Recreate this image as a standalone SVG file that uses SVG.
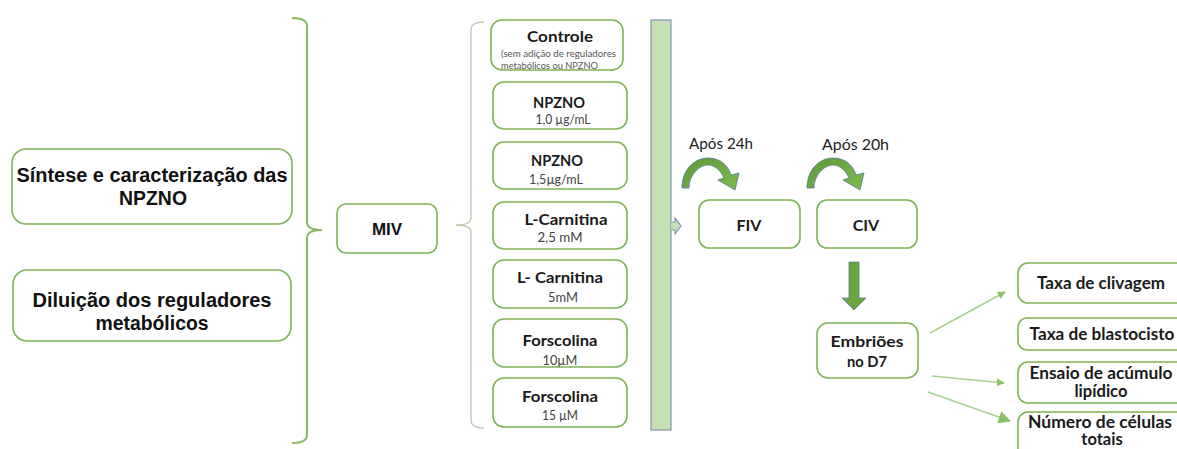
<svg xmlns="http://www.w3.org/2000/svg" width="1177" height="449" viewBox="0 0 1177 449">
<style>
  .box { fill: #ffffff; stroke: #7db356; stroke-width: 1.6; }
  .arial { font-family: "Liberation Sans", Arial, sans-serif; font-weight: bold; font-size: 20px; fill: #111; text-anchor: middle; }
  .miv { font-family: "Liberation Sans", Arial, sans-serif; font-weight: bold; font-size: 17px; fill: #111; text-anchor: middle; }
  .cal { font-family: Lato, "Liberation Sans", sans-serif; font-weight: bold; font-size: 16px; fill: #1a1a1a; text-anchor: middle; }
  .res { font-family: Lato, "Liberation Sans", sans-serif; font-weight: bold; font-size: 16.5px; fill: #1a1a1a; text-anchor: middle; }
  .sub { font-family: Lato, "Liberation Sans", sans-serif; font-size: 12.5px; fill: #444; text-anchor: middle; }
  .tiny { font-family: Lato, "Liberation Sans", sans-serif; font-size: 9.5px; fill: #555; }
  .apos { font-family: Lato, "Liberation Sans", sans-serif; font-size: 16px; fill: #222; }
  .thin { stroke: #a9d18e; stroke-width: 1.6; fill: none; }
  .curv { fill: url(#cg); stroke: #4f7a9a; stroke-width: 0.8; }
</style>
<defs>
  <linearGradient id="cg" x1="0" y1="0" x2="1" y2="1">
    <stop offset="0" stop-color="#5f9a35"/>
    <stop offset="1" stop-color="#7dbb4e"/>
  </linearGradient>
  <marker id="ah" viewBox="0 0 10 10" refX="9" refY="5" markerWidth="5" markerHeight="5" orient="auto" markerUnits="strokeWidth">
    <path d="M0,0 L10,5 L0,10 Z" fill="#8cc168"/>
  </marker>
  <marker id="ahb" viewBox="0 0 10 10" refX="9" refY="5" markerWidth="8" markerHeight="8" orient="auto" markerUnits="strokeWidth">
    <path d="M0,0 L10,5 L0,10 Z" fill="#8cc168"/>
  </marker>
</defs>
<rect width="1177" height="449" fill="#ffffff"/>

<g id="connectors">
  <path d="M292,18 Q307,18 307,26 L307,222 Q307,230 322,230 Q307,230 307,238 L307,435 Q307,443 292,443" fill="none" stroke="#86b865" stroke-width="2"/>
  <path d="M484,22 Q471,22 471,30 L471,218 Q471,225 456,225 Q471,225 471,232 L471,420 Q471,428 484,428" fill="none" stroke="#b8cdb0" stroke-width="1.4"/>
  <rect x="651" y="20" width="20" height="410" fill="#c6e0b4" stroke="#7f97b3" stroke-width="1.2"/>
  <path d="M671,222 L675,222 L675,218 L681,226 L675,234 L675,230 L671,230" fill="#c6e0b4" stroke="#7f97b3" stroke-width="1.2"/>
  <path class="curv" d="M682,188 C682,170 694,158 708,158 C720,158 728,165 731,175 L739,173 L735,190 L718,180 L724,178 C721,171 715,165 708,165 C699,165 689,175 689,188 Z"/>
  <path class="curv" d="M807,188 C807,170 819,158 833,158 C845,158 853,165 856,175 L864,173 L860,190 L843,180 L849,178 C846,171 840,165 833,165 C824,165 814,175 814,188 Z"/>
  <path d="M849,262 L859,262 L859,298 L866,298 L854,310 L842,298 L849,298 Z" fill="#6aa63d" stroke="#5b7fa5" stroke-width="0.8"/>
  <line class="thin" x1="930" y1="333" x2="1005" y2="292" marker-end="url(#ah)"/>
  <line class="thin" x1="932" y1="376" x2="1004" y2="383" marker-end="url(#ah)"/>
  <line class="thin" x1="928" y1="392" x2="1010" y2="421" marker-end="url(#ahb)"/>
</g>

<g id="sintese">
  <rect class="box" x="12" y="149" width="280" height="75" rx="14"/>
  <text class="arial" x="152" y="182" textLength="271" lengthAdjust="spacingAndGlyphs">Síntese e caracterização das</text>
  <text class="arial" x="153" y="205" textLength="68" lengthAdjust="spacingAndGlyphs">NPZNO</text>
</g>
<g id="diluicao">
  <rect class="box" x="13" y="270" width="278" height="71" rx="14"/>
  <text class="arial" x="152" y="307" textLength="239" lengthAdjust="spacingAndGlyphs">Diluição dos reguladores</text>
  <text class="arial" x="152" y="330" textLength="113" lengthAdjust="spacingAndGlyphs">metabólicos</text>
</g>
<g id="miv">
  <rect class="box" x="337" y="204" width="100" height="49" rx="9" stroke="#a9cf91"/>
  <text class="miv" x="387" y="235">MIV</text>
</g>

<g id="controle">
  <rect class="box" x="491" y="20" width="132" height="50" rx="11"/>
  <text class="cal" x="560" y="42" textLength="66" lengthAdjust="spacingAndGlyphs">Controle</text>
  <text class="tiny" x="501" y="57" textLength="115" lengthAdjust="spacingAndGlyphs">(sem adição de reguladores</text>
  <text class="tiny" x="501" y="69" textLength="97" lengthAdjust="spacingAndGlyphs">metabólicos ou NPZNO</text>
</g>
<g id="npzno1">
  <rect class="box" x="493" y="82" width="134" height="47" rx="11"/>
  <text class="cal" x="559" y="108" textLength="52" lengthAdjust="spacingAndGlyphs">NPZNO</text>
  <text class="sub" x="563" y="124" textLength="55" lengthAdjust="spacingAndGlyphs">1,0 µg/mL</text>
</g>
<g id="npzno2">
  <rect class="box" x="493" y="142" width="134" height="47" rx="11"/>
  <text class="cal" x="557" y="166" textLength="52" lengthAdjust="spacingAndGlyphs">NPZNO</text>
  <text class="sub" x="556" y="184" textLength="54" lengthAdjust="spacingAndGlyphs">1,5µg/mL</text>
</g>
<g id="lcarn1">
  <rect class="box" x="493" y="202" width="134" height="47" rx="11"/>
  <text class="cal" x="566" y="225" textLength="83" lengthAdjust="spacingAndGlyphs">L-Carnitina</text>
  <text class="sub" x="560" y="242" textLength="45" lengthAdjust="spacingAndGlyphs">2,5 mM</text>
</g>
<g id="lcarn2">
  <rect class="box" x="493" y="260" width="134" height="48" rx="11"/>
  <text class="cal" x="560" y="283" textLength="86" lengthAdjust="spacingAndGlyphs">L- Carnitina</text>
  <text class="sub" x="563" y="302" textLength="30" lengthAdjust="spacingAndGlyphs">5mM</text>
</g>
<g id="forsc1">
  <rect class="box" x="493" y="319" width="134" height="48" rx="11"/>
  <text class="cal" x="560" y="346" textLength="75" lengthAdjust="spacingAndGlyphs">Forscolina</text>
  <text class="sub" x="560" y="365" textLength="35" lengthAdjust="spacingAndGlyphs">10µM</text>
</g>
<g id="forsc2">
  <rect class="box" x="493" y="378" width="134" height="49" rx="11"/>
  <text class="cal" x="560" y="402" textLength="76" lengthAdjust="spacingAndGlyphs">Forscolina</text>
  <text class="sub" x="560" y="420" textLength="36" lengthAdjust="spacingAndGlyphs">15 µM</text>
</g>

<g id="labels">
  <text class="apos" x="689" y="149" textLength="64" lengthAdjust="spacingAndGlyphs">Após 24h</text>
  <text class="apos" x="822" y="150" textLength="67" lengthAdjust="spacingAndGlyphs">Após 20h</text>
</g>

<g id="fiv">
  <rect class="box" x="699" y="200" width="101" height="48" rx="10"/>
  <text class="cal" x="749" y="231" font-size="16.5">FIV</text>
</g>
<g id="civ">
  <rect class="box" x="817" y="200" width="100" height="48" rx="10"/>
  <text class="cal" x="866" y="231" font-size="16.5">CIV</text>
</g>
<g id="embrioes">
  <rect class="box" x="817" y="323" width="101" height="55" rx="11"/>
  <text class="cal" x="867" y="347" font-size="17.5" textLength="73" lengthAdjust="spacingAndGlyphs">Embriões</text>
  <text class="cal" x="867" y="367" font-size="17.5" textLength="40" lengthAdjust="spacingAndGlyphs">no D7</text>
</g>

<g id="clivagem">
  <rect class="box" x="1018" y="263" width="175" height="40" rx="10"/>
  <text class="res" x="1101" y="289" textLength="128" lengthAdjust="spacingAndGlyphs">Taxa de clivagem</text>
</g>
<g id="blastocisto">
  <rect class="box" x="1018" y="318" width="175" height="32" rx="9"/>
  <text class="res" x="1102" y="340" textLength="145" lengthAdjust="spacingAndGlyphs">Taxa de blastocisto</text>
</g>
<g id="lipidico">
  <rect class="box" x="1018" y="362" width="175" height="41" rx="10"/>
  <text class="res" x="1101" y="379" textLength="143" lengthAdjust="spacingAndGlyphs">Ensaio de acúmulo</text>
  <text class="res" x="1101" y="397" textLength="53" lengthAdjust="spacingAndGlyphs">lipídico</text>
</g>
<g id="celulas">
  <rect class="box" x="1018" y="412" width="175" height="50" rx="10"/>
  <text class="res" x="1100" y="428" textLength="144" lengthAdjust="spacingAndGlyphs">Número de células</text>
  <text class="res" x="1102" y="445" font-size="16">totais</text>
</g>
</svg>
